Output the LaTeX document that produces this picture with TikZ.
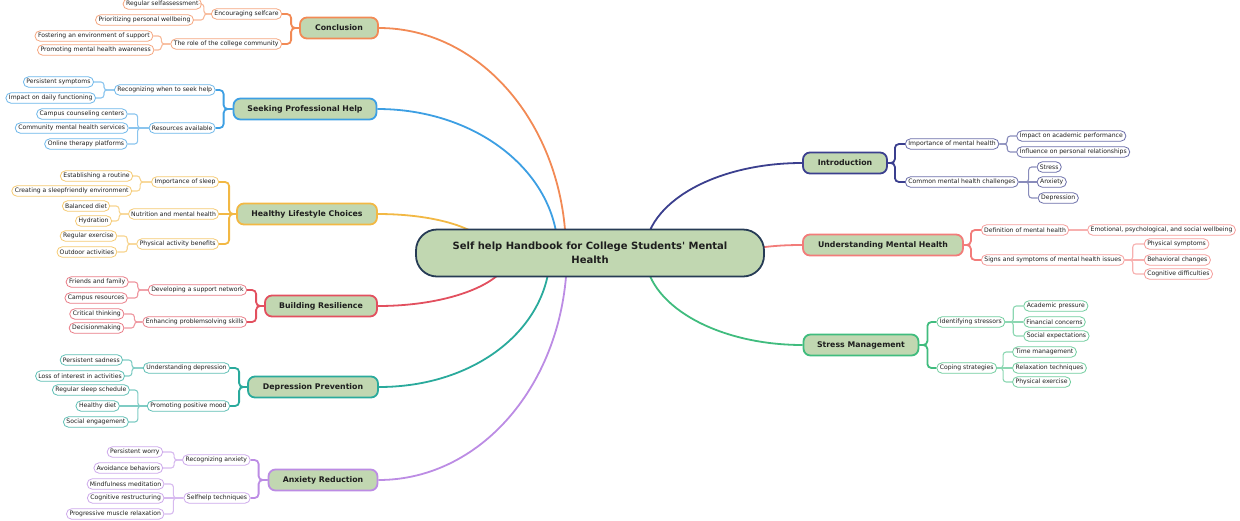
\documentclass[tikz,border=0pt]{standalone}
\usepackage{fontspec}
\setmainfont{DejaVu Sans}
\newfontfamily\rootfont{DejaVu Sans}
\usetikzlibrary{shapes.misc,calc,backgrounds}

\definecolor{sage}{HTML}{C1D7B1}
\definecolor{rootline}{HTML}{263B55}
\definecolor{ink}{HTML}{1E1E1E}
\definecolor{conc}{HTML}{F28A55}
\definecolor{seek}{HTML}{3D9FE3}
\definecolor{life}{HTML}{F2B844}
\definecolor{resi}{HTML}{E2505F}
\definecolor{depr}{HTML}{2AAA9C}
\definecolor{anx}{HTML}{BC8CE4}
\definecolor{intro}{HTML}{3B3F8E}
\definecolor{under}{HTML}{F27C7A}
\definecolor{stress}{HTML}{40BC7E}

\tikzset{
    root/.style={draw=rootline, fill=sage, line width=1.8, rounded corners=21,
        minimum width=348, minimum height=47, align=center, text=ink,
        font=\rootfont\fontsize{10}{14}\selectfont\bfseries},
    topic/.style={draw=#1, fill=sage, line width=1.8, rounded corners=7,
        minimum height=21, inner xsep=4, text=ink,
        font=\fontsize{7.8}{9}\selectfont\bfseries},
    twigbox/.style={rounded rectangle, draw=#1!75!white, fill=white, line width=0.8,
        minimum height=10.5, inner xsep=2.2, inner ysep=1, text=ink,
        font=\fontsize{6.1}{7}\selectfont},
    leafbox/.style={twigbox=#1},
    branch/.style={draw=#1, line width=1.8},
    limb/.style={draw=#1, line width=1.8, rounded corners=4},
    sprig/.style={draw=#1!60!white, line width=1.1, rounded corners=3},
}

\begin{document}
\begin{tikzpicture}[x=1pt, y=1pt]
    \useasboundingbox (0,0) rectangle (1240,-520);

    \node[root] (root) at (590,-253) {Self help Handbook for College Students' Mental\\Health};

    % Conclusion
    \node[topic=conc, minimum width=78] (conc) at (339,-28) {Conclusion};
    \node[twigbox=conc, anchor=east] (conc1) at ($(conc.west |- 0,-14)+(-17,0)$) {Encouraging selfcare};
    \node[twigbox=conc, anchor=east] (conc2) at ($(conc.west |- 0,-44)+(-17,0)$) {The role of the college community};
    \draw[limb=conc] (conc.west) -- ++(-8,0) |- (conc1.east);
    \draw[limb=conc] (conc.west) -- ++(-8,0) |- (conc2.east);
    \foreach \g/\y/\txt/\op [count=\i] in {9/4/Regular selfassessment/|-, 17/20/Prioritizing personal wellbeing/|-} {
        \node[leafbox=conc, anchor=east] (conc1\i) at ($(conc1.west |- 0,-\y)+(-\g,0)$) {\txt};
        \draw[sprig=conc] (conc1.west) -- ++(-7,0) \op (conc1\i.east);
    }
    \foreach \g/\y/\txt/\op [count=\i] in {17/36/Fostering an environment of support/|-, 16/50/Promoting mental health awareness/|-} {
        \node[leafbox=conc, anchor=east] (conc2\i) at ($(conc2.west |- 0,-\y)+(-\g,0)$) {\txt};
        \draw[sprig=conc] (conc2.west) -- ++(-9,0) \op (conc2\i.east);
    }

    % Seeking Professional Help
    \node[topic=seek, minimum width=143] (seek) at (305,-109) {Seeking Professional Help};
    \node[twigbox=seek, anchor=east] (seek1) at ($(seek.west |- 0,-90)+(-17,0)$) {Recognizing when to seek help};
    \node[twigbox=seek, anchor=east] (seek2) at ($(seek.west |- 0,-128)+(-17,0)$) {Resources available};
    \draw[limb=seek] (seek.west) -- ++(-9,0) |- (seek1.east);
    \draw[limb=seek] (seek.west) -- ++(-9,0) |- (seek2.east);
    \foreach \g/\y/\txt/\op [count=\i] in {20/82/Persistent symptoms/|-, 18/98/Impact on daily functioning/|-} {
        \node[leafbox=seek, anchor=east] (seek1\i) at ($(seek1.west |- 0,-\y)+(-\g,0)$) {\txt};
        \draw[sprig=seek] (seek1.west) -- ++(-10,0) \op (seek1\i.east);
    }
    \foreach \g/\y/\txt/\op [count=\i] in {21/114/Campus counseling centers/|-, 20/128/Community mental health services/--, 21/144/Online therapy platforms/|-} {
        \node[leafbox=seek, anchor=east] (seek2\i) at ($(seek2.west |- 0,-\y)+(-\g,0)$) {\txt};
        \draw[sprig=seek] (seek2.west) -- ++(-11,0) \op (seek2\i.east);
    }

    % Healthy Lifestyle Choices
    \node[topic=life, minimum width=140] (life) at (307,-214) {Healthy Lifestyle Choices};
    \node[twigbox=life, anchor=east] (life1) at ($(life.west |- 0,-182)+(-17,0)$) {Importance of sleep};
    \node[twigbox=life, anchor=east] (life2) at ($(life.west)+(-17,0)$) {Nutrition and mental health};
    \node[twigbox=life, anchor=east] (life3) at ($(life.west |- 0,-244)+(-17,0)$) {Physical activity benefits};
    \draw[limb=life] (life.west) -- ++(-7,0) |- (life1.east);
    \draw[limb=life] (life.west) -- (life2.east);
    \draw[limb=life] (life.west) -- ++(-7,0) |- (life3.east);
    \foreach \g/\y/\txt/\op [count=\i] in {18/176/Establishing a routine/|-, 19/191/Creating a sleepfriendly environment/|-} {
        \node[leafbox=life, anchor=east] (life1\i) at ($(life1.west |- 0,-\y)+(-\g,0)$) {\txt};
        \draw[sprig=life] (life1.west) -- ++(-11,0) \op (life1\i.east);
    }
    \foreach \g/\y/\txt/\op [count=\i] in {18/206/Balanced diet/|-, 16/221/Hydration/|-} {
        \node[leafbox=life, anchor=east] (life2\i) at ($(life2.west |- 0,-\y)+(-\g,0)$) {\txt};
        \draw[sprig=life] (life2.west) -- ++(-9,0) \op (life2\i.east);
    }
    \foreach \g/\y/\txt/\op [count=\i] in {19/236/Regular exercise/|-, 19/252/Outdoor activities/|-} {
        \node[leafbox=life, anchor=east] (life3\i) at ($(life3.west |- 0,-\y)+(-\g,0)$) {\txt};
        \draw[sprig=life] (life3.west) -- ++(-9,0) \op (life3\i.east);
    }

    % Building Resilience
    \node[topic=resi, minimum width=112] (resi) at (321,-306) {Building Resilience};
    \node[twigbox=resi, anchor=east] (resi1) at ($(resi.west |- 0,-290)+(-17,0)$) {Developing a support network};
    \node[twigbox=resi, anchor=east] (resi2) at ($(resi.west |- 0,-322)+(-17,0)$) {Enhancing problemsolving skills};
    \draw[limb=resi] (resi.west) -- ++(-8,0) |- (resi1.east);
    \draw[limb=resi] (resi.west) -- ++(-8,0) |- (resi2.east);
    \foreach \g/\y/\txt/\op [count=\i] in {19/282/Friends and family/|-, 20/298/Campus resources/|-} {
        \node[leafbox=resi, anchor=east] (resi1\i) at ($(resi1.west |- 0,-\y)+(-\g,0)$) {\txt};
        \draw[sprig=resi] (resi1.west) -- ++(-10,0) \op (resi1\i.east);
    }
    \foreach \g/\y/\txt/\op [count=\i] in {18/314/Critical thinking/|-, 18/328/Decisionmaking/|-} {
        \node[leafbox=resi, anchor=east] (resi2\i) at ($(resi2.west |- 0,-\y)+(-\g,0)$) {\txt};
        \draw[sprig=resi] (resi2.west) -- ++(-8,0) \op (resi2\i.east);
    }

    % Depression Prevention
    \node[topic=depr, minimum width=130] (depr) at (313,-387) {Depression Prevention};
    \node[twigbox=depr, anchor=east] (depr1) at ($(depr.west |- 0,-368)+(-17,0)$) {Understanding depression};
    \node[twigbox=depr, anchor=east] (depr2) at ($(depr.west |- 0,-406)+(-17,0)$) {Promoting positive mood};
    \draw[limb=depr] (depr.west) -- ++(-8,0) |- (depr1.east);
    \draw[limb=depr] (depr.west) -- ++(-8,0) |- (depr2.east);
    \foreach \g/\y/\txt/\op [count=\i] in {20/360/Persistent sadness/|-, 18/376/Loss of interest in activities/|-} {
        \node[leafbox=depr, anchor=east] (depr1\i) at ($(depr1.west |- 0,-\y)+(-\g,0)$) {\txt};
        \draw[sprig=depr] (depr1.west) -- ++(-11,0) \op (depr1\i.east);
    }
    \foreach \g/\y/\txt/\op [count=\i] in {17/390/Regular sleep schedule/|-, 27/406/Healthy diet/--, 18/422/Social engagement/|-} {
        \node[leafbox=depr, anchor=east] (depr2\i) at ($(depr2.west |- 0,-\y)+(-\g,0)$) {\txt};
        \draw[sprig=depr] (depr2.west) -- ++(-9,0) \op (depr2\i.east);
    }

    % Anxiety Reduction
    \node[topic=anx, minimum width=109] (anx) at (323,-480) {Anxiety Reduction};
    \node[twigbox=anx, anchor=east] (anx1) at ($(anx.west |- 0,-460)+(-17,0)$) {Recognizing anxiety};
    \node[twigbox=anx, anchor=east] (anx2) at ($(anx.west |- 0,-498)+(-17,0)$) {Selfhelp techniques};
    \draw[limb=anx] (anx.west) -- ++(-9,0) |- (anx1.east);
    \draw[limb=anx] (anx.west) -- ++(-9,0) |- (anx2.east);
    \foreach \g/\y/\txt/\op [count=\i] in {19/452/Persistent worry/|-, 19/468/Avoidance behaviors/|-} {
        \node[leafbox=anx, anchor=east] (anx1\i) at ($(anx1.west |- 0,-\y)+(-\g,0)$) {\txt};
        \draw[sprig=anx] (anx1.west) -- ++(-8,0) \op (anx1\i.east);
    }
    \foreach \g/\y/\txt/\op [count=\i] in {19/484/Mindfulness meditation/|-, 19/498/Cognitive restructuring/--, 19/514/Progressive muscle relaxation/|-} {
        \node[leafbox=anx, anchor=east] (anx2\i) at ($(anx2.west |- 0,-\y)+(-\g,0)$) {\txt};
        \draw[sprig=anx] (anx2.west) -- ++(-10,0) \op (anx2\i.east);
    }

    % Introduction
    \node[topic=intro, minimum width=84] (intro) at (845,-163) {Introduction};
    \node[twigbox=intro, anchor=west] (intro1) at ($(intro.east |- 0,-144)+(17,0)$) {Importance of mental health};
    \node[twigbox=intro, anchor=west] (intro2) at ($(intro.east |- 0,-182)+(17,0)$) {Common mental health challenges};
    \draw[limb=intro] (intro.east) -- ++(7,0) |- (intro1.west);
    \draw[limb=intro] (intro.east) -- ++(7,0) |- (intro2.west);
    \foreach \g/\y/\txt/\op [count=\i] in {17/136/Impact on academic performance/|-, 17/152/Influence on personal relationships/|-} {
        \node[leafbox=intro, anchor=west] (intro1\i) at ($(intro1.east |- 0,-\y)+(\g,0)$) {\txt};
        \draw[sprig=intro] (intro1.east) -- ++(8,0) \op (intro1\i.west);
    }
    \foreach \g/\y/\txt/\op [count=\i] in {18/167/Stress/|-, 18/182/Anxiety/--, 19/198/Depression/|-} {
        \node[leafbox=intro, anchor=west] (intro2\i) at ($(intro2.east |- 0,-\y)+(\g,0)$) {\txt};
        \draw[sprig=intro] (intro2.east) -- ++(10,0) \op (intro2\i.west);
    }

    % Understanding Mental Health
    \node[topic=under, minimum width=160] (under) at (883,-245) {Understanding Mental Health};
    \node[twigbox=under, anchor=west] (under1) at ($(under.east |- 0,-230)+(17,0)$) {Definition of mental health};
    \node[twigbox=under, anchor=west] (under2) at ($(under.east |- 0,-260)+(17,0)$) {Signs and symptoms of mental health issues};
    \draw[limb=under] (under.east) -- ++(7,0) |- (under1.west);
    \draw[limb=under] (under.east) -- ++(7,0) |- (under2.west);
    \node[leafbox=under, anchor=west] (under11) at ($(under1.east)+(18,0)$) {Emotional, psychological, and social wellbeing};
    \draw[sprig=under] (under1.east) -- (under11.west);
    \foreach \g/\y/\txt/\op [count=\i] in {19/244/Physical symptoms/|-, 19/260/Behavioral changes/--, 19/274/Cognitive difficulties/|-} {
        \node[leafbox=under, anchor=west] (under2\i) at ($(under2.east |- 0,-\y)+(\g,0)$) {\txt};
        \draw[sprig=under] (under2.east) -- ++(8,0) \op (under2\i.west);
    }

    % Stress Management
    \node[topic=stress, minimum width=115] (stress) at (861,-345) {Stress Management};
    \node[twigbox=stress, anchor=west] (stress1) at ($(stress.east |- 0,-322)+(17,0)$) {Identifying stressors};
    \node[twigbox=stress, anchor=west] (stress2) at ($(stress.east |- 0,-368)+(17,0)$) {Coping strategies};
    \draw[limb=stress] (stress.east) -- ++(8,0) |- (stress1.west);
    \draw[limb=stress] (stress.east) -- ++(8,0) |- (stress2.west);
    \foreach \g/\y/\txt/\op [count=\i] in {18/306/Academic pressure/|-, 18/322/Financial concerns/--, 18/336/Social expectations/|-} {
        \node[leafbox=stress, anchor=west] (stress1\i) at ($(stress1.east |- 0,-\y)+(\g,0)$) {\txt};
        \draw[sprig=stress] (stress1.east) -- ++(8,0) \op (stress1\i.west);
    }
    \foreach \g/\y/\txt/\op [count=\i] in {15/352/Time management/|-, 15/368/Relaxation techniques/--, 15/382/Physical exercise/|-} {
        \node[leafbox=stress, anchor=west] (stress2\i) at ($(stress2.east |- 0,-\y)+(\g,0)$) {\txt};
        \draw[sprig=stress] (stress2.east) -- ++(6,0) \op (stress2\i.west);
    }

    % main branches, behind the central node
    \begin{scope}[on background layer]
        \draw[branch=conc] (conc.east) .. controls +(104,0) and +(0,124) .. ([xshift=-24]root.center);
        \draw[branch=seek] (seek.east) .. controls +(101,0) and +(0,79) .. ([xshift=-32]root.center);
        \draw[branch=life] (life.east) .. controls +(62,0) and +(0,22) .. ([xshift=-100]root.center);
        \draw[branch=resi] (resi.east) .. controls +(73,0) and +(0,-29) .. ([xshift=-80]root.center);
        \draw[branch=depr] (depr.east) .. controls +(98,0) and +(0,-74) .. ([xshift=-40]root.center);
        \draw[branch=anx] (anx.east) .. controls +(106,0) and +(0,-125) .. ([xshift=-23]root.center);
        \draw[branch=intro] (intro.west) .. controls +(-87,0) and +(0,50) .. ([xshift=55]root.center);
        \draw[branch=under] (under.west) .. controls +(-50,0) and +(50,0) .. ([xshift=110]root.center);
        \draw[branch=stress] (stress.west) .. controls +(-87,0) and +(0,-51) .. ([xshift=55]root.center);
    \end{scope}
\end{tikzpicture}
\end{document}
